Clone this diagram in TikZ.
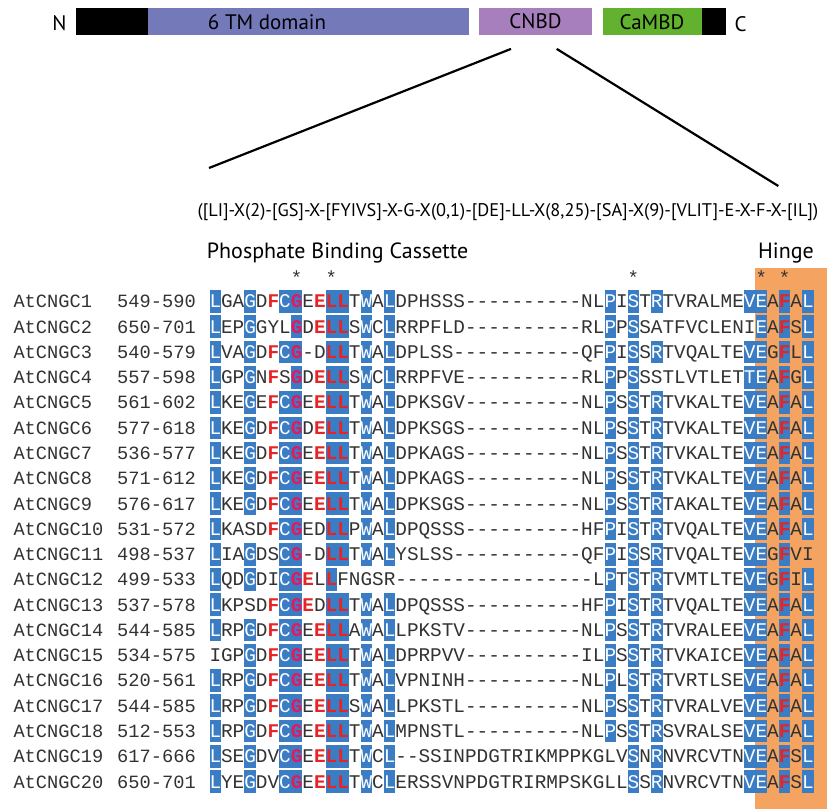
\documentclass[tikz,border=0pt]{standalone}
\usepackage{fontspec}
\setmainfont{PT Sans}
\setmonofont{Liberation Mono}
\setlength{\fboxsep}{0pt}
\definecolor{tmblue}{RGB}{116,121,186}
\definecolor{cnbdpurple}{RGB}{167,127,188}
\definecolor{camgreen}{RGB}{99,178,47}
\definecolor{consblue}{RGB}{59,125,196}
\definecolor{hingeorange}{RGB}{244,164,96}
\definecolor{resred}{RGB}{232,35,35}
\definecolor{respink}{RGB}{228,24,92}
\definecolor{seqtext}{RGB}{50,50,50}
% conserved residue, blue box
\newcommand\bb[1]{\colorbox{consblue}{\rule[-4.95pt]{0pt}{22.7pt}\textcolor{white}{#1}}}
% red bold residue
\newcommand\rr[1]{\textcolor{resred}{\bfseries #1}}
% red bold residue in blue box
\newcommand\br[1]{\colorbox{consblue}{\rule[-4.95pt]{0pt}{22.7pt}\textcolor{resred}{\bfseries #1}}}
% glycine, pink in blue box
\newcommand\bg[1]{\colorbox{consblue}{\rule[-4.95pt]{0pt}{22.7pt}\textcolor{respink}{\bfseries #1}}}
\begin{document}
\begin{tikzpicture}[x=1pt,y=-1pt,
    domainbox/.style={inner sep=0pt, font=\fontsize{21}{21}\selectfont},
    heading/.style={anchor=west, inner sep=0pt, font=\fontsize{22}{22}\selectfont},
    motif/.style={anchor=west, inner sep=0pt, font=\fontsize{18.3}{19}\selectfont},
    seqlabel/.style={anchor=base west, inner sep=0pt, text=seqtext,
      font=\ttfamily\fontsize{18.7}{20}\selectfont},
    seqrow/.style={anchor=base west, inner sep=0pt, text=seqtext,
      font=\ttfamily\fontsize{19.36}{20}\selectfont},
    star/.style={inner sep=0pt, text=seqtext, font=\ttfamily\fontsize{19}{19}\selectfont},
    fan/.style={line width=2.2pt}]
  \useasboundingbox (0,0) rectangle (827,811);
  % domain bar
  \fill (76,8.3) rectangle (148,34.7);
  \fill[tmblue] (148,8.3) rectangle (469,34.7);
  \node[domainbox, fill=cnbdpurple, minimum width=113pt, minimum height=26.4pt] (cnbd) at (535.5,21.5) {CNBD};
  \fill[camgreen] (602.7,8.3) rectangle (701.7,34.7);
  \fill (701.7,8.3) rectangle (725.7,34.7);
  \node[domainbox] (nterm) at (59.5,23) {N};
  \node[domainbox] (tmtext) at (267,22) {6 TM domain};
  \node[domainbox] (camtext) at (652,22) {CaMBD};
  \node[domainbox] (cterm) at (740.5,24) {C};
  % zoom into the CNBD
  \coordinate (fanL) at (209,168);
  \coordinate (fanR) at (778.3,186);
  \draw[fan] ([shift={(-24.5,14)}]cnbd.south) -- (fanL);
  \draw[fan] ([shift={(21.2,14)}]cnbd.south) -- (fanR);
  \node[motif] (motif) at (197.5,212) {([LI]-X(2)-[GS]-X-[FYIVS]-X-G-X(0,1)-[DE]-LL-X(8,25)-[SA]-X(9)-[VLIT]-E-X-F-X-[IL])};
  % alignment
  \fill[hingeorange] (755.4,268) rectangle (827,809);
  \node[heading] (pbc) at (206.7,253) {Phosphate Binding Cassette};
  \node[heading] (hinge) at (758,253) {Hinge};
  \foreach \i in {7,10,36,47,49}
    \node[star] (star\i) at ({209.3+(\i+0.5)*11.62},278) {*};
  \foreach \n/\rng/\seq in {
    1/549-590/{\bb{L}GA\bb{G}D\rr{F}\bb{C}\bg{G}E\rr{E}\br{LL}T\bb{W}A\bb{L}DPHSSS----------NL\bb{P}I\bb{S}T\bb{R}TVRALME\bb{VE}A\br{F}A\bb{L}},
    2/650-701/{\bb{L}EP\bb{G}GYL\bg{G}D\rr{E}\br{LL}S\bb{W}C\bb{L}RRPFLD----------RL\bb{P}P\bb{S}SATFVCLENI\bb{E}A\br{F}S\bb{L}},
    3/540-579/{\bb{L}VA\bb{G}D\rr{F}\bb{C}\bg{G}-D\br{LL}T\bb{W}A\bb{L}DPLSS-----------QF\bb{P}I\bb{S}S\bb{R}TVQALTE\bb{VE}G\br{F}L\bb{L}},
    4/557-598/{\bb{L}GP\bb{G}N\rr{F}S\bg{G}D\rr{E}\br{LL}S\bb{W}C\bb{L}RRPFVE----------RL\bb{P}P\bb{S}SSTLVTLET\bb{TE}A\br{F}G\bb{L}},
    5/561-602/{\bb{L}KE\bb{G}E\rr{F}\bb{C}\bg{G}E\rr{E}\br{LL}T\bb{W}A\bb{L}DPKSGV----------NL\bb{P}S\bb{S}T\bb{R}TVKALTE\bb{VE}A\br{F}A\bb{L}},
    6/577-618/{\bb{L}KE\bb{G}D\rr{F}\bb{C}\bg{G}D\rr{E}\br{LL}T\bb{W}A\bb{L}DPKSGS----------NL\bb{P}S\bb{S}T\bb{R}TVKALTE\bb{VE}A\br{F}A\bb{L}},
    7/536-577/{\bb{L}KE\bb{G}D\rr{F}\bb{C}\bg{G}E\rr{E}\br{LL}T\bb{W}A\bb{L}DPKAGS----------NL\bb{P}S\bb{S}T\bb{R}TVKALTE\bb{VE}A\br{F}A\bb{L}},
    8/571-612/{\bb{L}KE\bb{G}D\rr{F}\bb{C}\bg{G}E\rr{E}\br{LL}T\bb{W}A\bb{L}DPKAGS----------NL\bb{P}S\bb{S}T\bb{R}TVKALTE\bb{VE}A\br{F}A\bb{L}},
    9/576-617/{\bb{L}KE\bb{G}D\rr{F}\bb{C}\bg{G}E\rr{E}\br{LL}T\bb{W}A\bb{L}DPKSGS----------NL\bb{P}S\bb{S}T\bb{R}TAKALTE\bb{VE}A\br{F}A\bb{L}},
    10/531-572/{\bb{L}KASD\rr{F}\bb{C}\bg{G}ED\br{LL}P\bb{W}A\bb{L}DPQSSS----------HF\bb{P}I\bb{S}T\bb{R}TVQALTE\bb{VE}A\br{F}A\bb{L}},
    11/498-537/{\bb{L}IA\bb{G}DS\bb{C}\bg{G}-D\br{LL}T\bb{W}A\bb{L}YSLSS-----------QF\bb{P}I\bb{S}S\bb{R}TVQALTE\bb{VE}G\br{F}VI},
    12/499-533/{\bb{L}QD\bb{G}DI\bb{C}\bg{G}\rr{E}L\br{L}FNGSR-----------------L\bb{P}T\bb{S}T\bb{R}TVMTLTE\bb{VE}G\br{F}I\bb{L}},
    13/537-578/{\bb{L}KPSD\rr{F}\bb{C}\bg{G}\rr{E}D\br{LL}T\bb{W}A\bb{L}DPQSSS----------HF\bb{P}I\bb{S}T\bb{R}TVQALTE\bb{VE}A\br{F}A\bb{L}},
    14/544-585/{\bb{L}RP\bb{G}D\rr{F}\bb{C}\bg{G}E\rr{E}\br{LL}A\bb{W}A\bb{L}LPKSTV----------NL\bb{P}S\bb{S}T\bb{R}TVRALEE\bb{VE}A\br{F}A\bb{L}},
    15/534-575/{IGP\bb{G}D\rr{F}\bb{C}\bg{G}E\rr{E}\br{LL}T\bb{W}A\bb{L}DPRPVV----------IL\bb{P}S\bb{S}T\bb{R}TVKAICE\bb{VE}A\br{F}A\bb{L}},
    16/520-561/{\bb{L}RP\bb{G}D\rr{F}\bb{C}\bg{G}E\rr{E}\br{LL}T\bb{W}A\bb{L}VPNINH----------NL\bb{P}L\bb{S}T\bb{R}TVRTLSE\bb{VE}A\br{F}A\bb{L}},
    17/544-585/{\bb{L}RP\bb{G}D\rr{F}\bb{C}\bg{G}E\rr{E}\br{LL}S\bb{W}A\bb{L}LPKSTL----------NL\bb{P}S\bb{S}T\bb{R}TVRALVE\bb{VE}A\br{F}A\bb{L}},
    18/512-553/{\bb{L}RP\bb{G}D\rr{F}\bb{C}\bg{G}E\rr{E}\br{LL}T\bb{W}A\bb{L}MPNSTL----------NL\bb{P}S\bb{S}T\bb{R}SVRALSE\bb{VE}A\br{F}A\bb{L}},
    19/617-666/{\bb{L}SE\bb{G}DV\bb{C}\bg{G}E\rr{E}\br{LL}T\bb{W}C\bb{L}--SSINPDGTRIKMPPKGLV\bb{S}N\bb{R}NVRCVTN\bb{VE}A\br{F}S\bb{L}},
    20/650-701/{\bb{L}YE\bb{G}DV\bb{C}\bg{G}E\rr{E}\br{LL}T\bb{W}C\bb{L}ERSSVNPDGTRIRMPSKGLL\bb{S}S\bb{R}NVRCVTN\bb{VE}A\br{F}S\bb{L}}}{
    \pgfmathsetmacro\yb{301.5+(\n-1)*25.27+6.4}
    \node[seqlabel] (lab\n) at (13.3,\yb) {AtCNGC\n};
    \node[seqlabel] (rng\n) at (117,\yb) {\rng};
    \node[seqrow] (seq\n) at (209.3,\yb) {\seq};
  }
\end{tikzpicture}
\end{document}
